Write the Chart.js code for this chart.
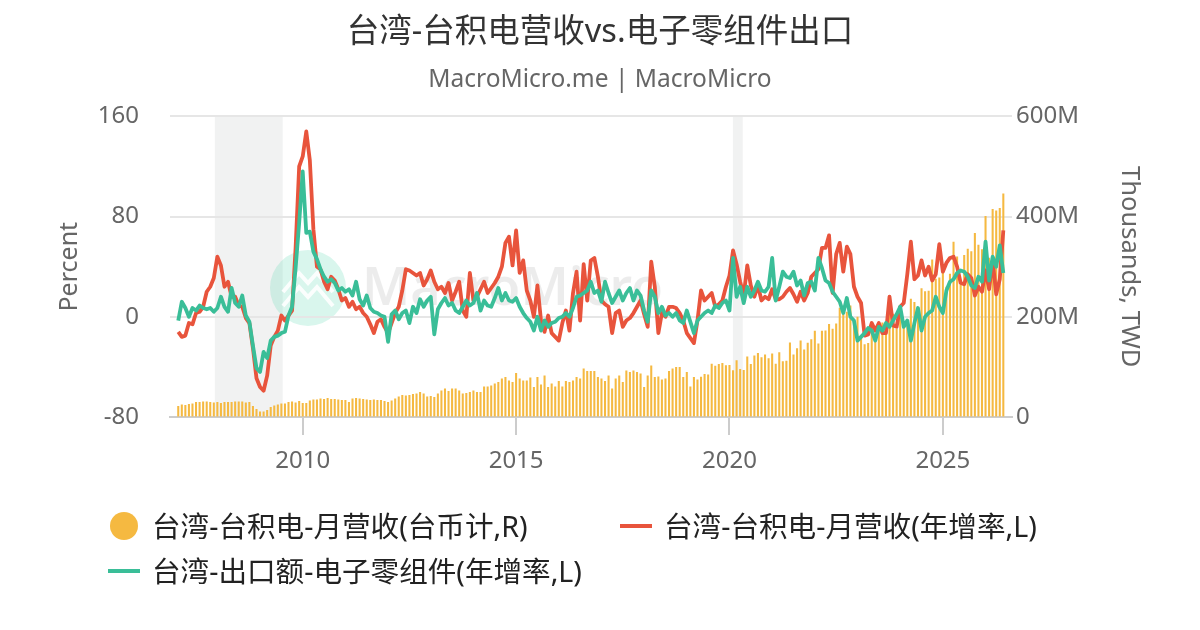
<!DOCTYPE html>
<html><head><meta charset="utf-8">
<script src="https://cdn.jsdelivr.net/npm/chart.js@4.4.1/dist/chart.umd.min.js"></script>
<style>
html,body{margin:0;padding:0;background:#fff;}
#wrap{position:relative;width:1200px;height:630px;font-family:'Noto Sans','Noto Sans CJK SC',sans-serif;}
#c{position:absolute;left:0;top:0;}
.lg{position:absolute;font-size:28.6px;line-height:34px;color:#222;white-space:nowrap;transform:translateY(-50%);}
.dot{position:absolute;width:28px;height:28px;border-radius:50%;transform:translateY(-50%);}
.dash{position:absolute;width:32px;height:4px;transform:translateY(-50%);}
</style></head><body>
<div id="wrap"><canvas id="c" width="1200" height="630"></canvas><div id="legend"></div></div>
<script>
// ---- data (monthly, first value = Feb 2007, last = Jun 2026) ----
const firstYear = 2007;
const firstMonth = 2;

// 台湾-台积电-月营收(台币计,R)  — in M (millions of thousand TWD)
const tsmcRevenue = [
  22,25,24,26,27,30,30,31,31,30,29,                 // 2007
  30,28,30,30,30,31,31,31,29,30,22,16,              // 2008
  11,11,14,20,23,25,27,27,30,31,29,32,              // 2009
  28,28,33,35,35,37,36,38,36,36,35,34,              // 2010
  34,30,37,38,37,36,35,34,35,34,34,32,              // 2011
  30,33,37,41,44,43,44,46,47,50,47,41,              // 2012
  42,40,47,53,57,52,57,57,53,47,48,50,              // 2013
  53,50,50,61,61,63,67,70,77,80,73,70,              // 2014
  88,77,73,73,79,60,80,65,83,60,67,61,              // 2015
  72,61,72,70,73,80,77,97,92,92,92,80,              // 2016
  77,72,83,57,77,83,70,93,90,93,90,87,              // 2017
  60,83,103,80,81,75,77,92,97,100,100,80,           // 2018
  89.8,60.9,79.7,74.7,80.4,85.9,84.8,106.1,102.2,106.0,107.9,103.3,       // 2019
  103.7,93.4,113.5,96.0,93.8,120.9,106.0,122.9,127.6,119.3,124.9,117.4,   // 2020
  126.8,106.5,129.1,111.3,112.4,148.5,124.6,137.4,152.7,134.5,148.3,155.4, // 2021
  172.2,146.9,172.0,172.6,185.7,175.9,186.8,218.1,208.2,210.3,222.7,192.6, // 2022
  200.1,163.2,145.4,147.9,176.5,156.4,177.6,188.7,180.4,243.2,206.0,176.3, // 2023
  215.8,181.6,195.2,236.0,229.6,207.9,257.0,250.9,251.9,314.2,276.1,278.2, // 2024
  293.3,260.0,286.0,349.6,320.5,263.7,323.2,335.8,331.0,367.5,343.6,335.0, // 2025
  401,318,415,412,417,446                                                  // 2026
];

// 台湾-台积电-月营收(年增率,L)  — %
const tsmcRevenueYoY = [
  -12,-16,-15,-5,-6,3,4,8,20,24,31,                 // 2007
  48,41,24,28,16,16,9,8,-1,-5,-25,-49,              // 2008
  -56,-59,-47,-23,-16,-11,1,-3,1,5,55,120,          // 2009
  128,148,125,70,40,38,28,22,32,29,22,13,           // 2010
  15,8,12,6,8,3,0,-6,-13,-4,-2,-8,                  // 2011
  -13,-5,3,8,21,38,37,35,33,35,25,30,               // 2012
  37,28,22,24,19,27,13,20,28,5,0,35,                // 2013
  13,16,22,28,19,23,27,32,40,59,64,41,              // 2014
  69,35,45,21,13,0,25,-3,-12,1,-13,-16,             // 2015
  -19,-5,5,-11,19,36,-3,42,13,45,47,32,             // 2016
  13,10,8,-13,3,5,-8,-3,-1,3,8,13,                  // 2017
  2,-8,44,24,-13,3,0,8,8,7,3,-3,                    // 2018
  -13,-17,-21,-3,21,13,16,19,8,10,13,24,            // 2019
  33,53,42,28,17,41,25,16,25,13,16,14,              // 2020
  22,14,14,16,20,23,18,12,20,13,19,32,              // 2021
  35,38,55,55,65,19,50,59,36,56,50,24,              // 2022
  16,11,-15,-14,-5,-11,-5,-13,-13,16,-7,-8,         // 2023
  8,11,34,60,30,33,45,33,40,29,34,58,               // 2024
  36,43,47,48,40,27,26,34,31,17,24,20,              // 2025
  37,22,45,18,30,69                                 // 2026
];

// 台湾-出口额-电子零组件(年增率,L)  — %
const electronicsExportYoY = [
  -3,12,7,0,7,5,9,7,6,7,4,                          // 2007
  7,16,8,4,23,11,8,17,1,-4,-23,-41,                 // 2008
  -44,-28,-33,-19,-16,-15,-13,-12,1,8,39,75,        // 2009
  116,67,68,52,46,38,32,28,30,27,21,23,             // 2010
  20,22,17,28,14,9,17,7,4,3,1,0,                    // 2011
  -20,2,5,-2,3,5,-5,8,3,14,8,13,                    // 2012
  16,-14,6,11,15,9,11,5,3,8,13,9,                   // 2013
  11,19,5,13,9,8,15,23,13,19,13,12,                 // 2014
  15,8,3,-1,-4,-11,0,-11,-3,-8,-5,-4,               // 2015
  -1,0,3,0,7,16,17,19,21,28,19,21,                  // 2016
  12,28,19,11,16,21,13,19,23,13,21,17,              // 2017
  5,-4,21,16,3,8,1,3,0,3,-3,-5,                     // 2018
  5,-4,-13,-3,0,3,5,3,9,7,11,13,                    // 2019
  5,47,16,24,11,24,16,21,28,21,20,24,               // 2020
  47,13,24,36,32,31,36,25,29,17,27,28,              // 2021
  21,47,39,29,27,20,16,12,3,15,0,-3,                // 2022
  -19,-16,-13,-9,-11,-19,-8,-11,-5,-8,-3,2,         // 2023
  8,-8,-3,-19,-5,7,-11,0,3,5,16,8,                  // 2024
  3,21,28,30,35,37,36,32,25,23,32,28,               // 2025
  60,29,48,40,57,35                                 // 2026
];

const yearTicks = [2010, 2015, 2020, 2025];
const shadeStart = [2007.94, 2020.08];
const shadeEnd = [2009.53, 2020.31];

const titleText = '台湾-台积电营收vs.电子零组件出口';
const subtitleText = 'MacroMicro.me | MacroMicro';
const seriesNames = ['台湾-台积电-月营收(台币计,R)', '台湾-台积电-月营收(年增率,L)', '台湾-出口额-电子零组件(年增率,L)'];
const seriesColors = ['#F5B941', '#E8543C', '#3ABE98'];

// ---- build ----
const monthX = tsmcRevenue.map((_, k) => firstYear + (firstMonth - 1 + k) / 12);
const toXY = arr => arr.map((v, k) => ({x: monthX[k], y: v}));

const FONT = "'Noto Sans', 'Noto Sans CJK SC', sans-serif";
Chart.defaults.font.family = FONT;

const backdrop = {
  id: 'backdrop',
  beforeDraw(chart) {
    const {ctx, chartArea: a, scales: {x}} = chart;
    ctx.save();
    ctx.fillStyle = '#f1f2f2';
    shadeStart.forEach((s, k) => {
      const x0 = x.getPixelForValue(s), x1 = x.getPixelForValue(shadeEnd[k]);
      ctx.fillRect(x0, a.top, x1 - x0, a.bottom - a.top);
    });
    // watermark
    const cx = 308, cy = 288;
    ctx.fillStyle = 'rgba(80,215,175,0.22)';
    ctx.beginPath(); ctx.arc(cx, cy, 38, 0, Math.PI * 2); ctx.fill();
    ctx.strokeStyle = 'rgba(255,255,255,0.9)'; ctx.lineWidth = 4; ctx.lineJoin = 'miter';
    [[-6], [8]].forEach(([dy]) => {
      ctx.beginPath();
      ctx.moveTo(cx - 25, cy + dy + 10); ctx.lineTo(cx - 9, cy + dy - 9);
      ctx.lineTo(cx, cy + dy + 1); ctx.lineTo(cx + 9, cy + dy - 9); ctx.lineTo(cx + 25, cy + dy + 10);
      ctx.stroke();
    });
    ctx.fillStyle = 'rgba(0,0,0,0.075)';
    ctx.font = "600 52px " + FONT;
    ctx.textBaseline = 'middle'; ctx.textAlign = 'left';
    ctx.fillText('MacroMicro', 362, cy + 2);
    ctx.restore();
  }
};

new Chart(document.getElementById('c'), {
  type: 'bar',
  data: {
    datasets: [
      {type: 'line', label: seriesNames[2], data: toXY(electronicsExportYoY), yAxisID: 'y',
       borderColor: seriesColors[2], borderWidth: 3.8, borderJoinStyle: 'round', pointRadius: 0, tension: 0, order: 0},
      {type: 'line', label: seriesNames[1], data: toXY(tsmcRevenueYoY), yAxisID: 'y',
       borderColor: seriesColors[1], borderWidth: 3.8, borderJoinStyle: 'round', pointRadius: 0, tension: 0, order: 1},
      {type: 'bar', label: seriesNames[0], data: toXY(tsmcRevenue), yAxisID: 'y1',
       backgroundColor: seriesColors[0], barPercentage: 0.58, categoryPercentage: 1, order: 2}
    ]
  },
  options: {
    responsive: false,
    animation: false,
    events: [],
    layout: {padding: {left: 0, right: 0, top: 0, bottom: 153}},
    plugins: {
      legend: {display: false},
      tooltip: {enabled: false},
      title: {display: true, text: titleText, color: '#333', font: {size: 32.5, weight: 'normal'},
              padding: {top: 13, bottom: 11}},
      subtitle: {display: true, text: subtitleText, color: '#666', font: {size: 24.5, weight: 'normal'},
                 padding: {top: 2, bottom: 22}}
    },
    scales: {
      x: {
        type: 'linear', min: 2006.89, max: 2026.62, offset: false,
        afterBuildTicks: s => { s.ticks = yearTicks.map(v => ({value: v})); },
        afterFit: s => { s.height = 60; },
        ticks: {color: '#666', font: {size: 24}, padding: 12, callback: v => String(v), maxRotation: 0, autoSkip: false},
        grid: {display: true, offset: false, drawOnChartArea: false, drawTicks: true, tickLength: 18, color: '#cccccc', lineWidth: 2},
        border: {display: true, color: '#cccccc', width: 2}
      },
      y: {
        position: 'left', min: -80, max: 160,
        afterFit: s => { s.width = 170; },
        ticks: {stepSize: 80, color: '#666', font: {size: 24}, padding: 31},
        grid: {color: '#e6e6e6', lineWidth: 2, drawTicks: false},
        border: {display: false},
        title: {display: true, text: 'Percent', color: '#666', font: {size: 25}, padding: {top: 55, bottom: 0}}
      },
      y1: {
        position: 'right', min: 0, max: 600,
        afterFit: s => { s.width = 188; },
        ticks: {stepSize: 200, color: '#666', font: {size: 24}, padding: 4, callback: v => v === 0 ? '0' : v + 'M'},
        grid: {drawOnChartArea: false, drawTicks: false},
        border: {display: false},
        title: {display: true, text: 'Thousands, TWD', color: '#666', font: {size: 25.5}, padding: {top: 55, bottom: 0}}
      }
    }
  },
  plugins: [backdrop]
});

// ---- legend (HTML, real text) ----
const legend = document.getElementById('legend');
const legendItems = [
  {kind: 'dot', color: seriesColors[0], text: seriesNames[0], mx: 110, tx: 152, cy: 526},
  {kind: 'dash', color: seriesColors[1], text: seriesNames[1], mx: 620, tx: 664, cy: 526},
  {kind: 'dash', color: seriesColors[2], text: seriesNames[2], mx: 108, tx: 152, cy: 571}
];
legendItems.forEach(it => {
  const m = document.createElement('div');
  m.className = it.kind;
  m.style.left = it.mx + 'px'; m.style.top = it.cy + 'px'; m.style.background = it.color;
  legend.appendChild(m);
  const t = document.createElement('div');
  t.className = 'lg';
  t.style.left = it.tx + 'px'; t.style.top = it.cy + 'px';
  t.textContent = it.text;
  legend.appendChild(t);
});
</script>
</body></html>
